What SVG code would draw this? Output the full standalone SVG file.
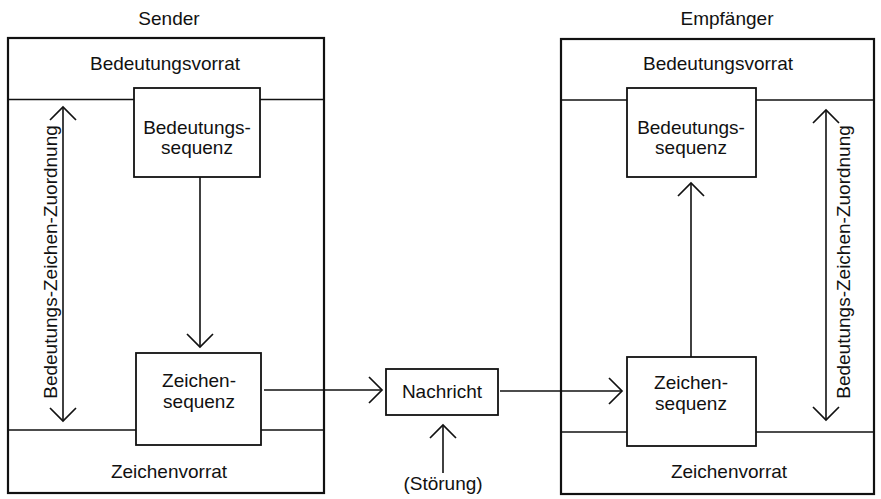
<svg xmlns="http://www.w3.org/2000/svg" width="881" height="499" viewBox="0 0 881 499">
<defs>
<marker id="v" viewBox="-15 -15 17 30" markerWidth="17" markerHeight="30" refX="0" refY="0" orient="auto" markerUnits="userSpaceOnUse">
<path d="M-13,-13 L0,0 L-13,13" fill="none" stroke="#111" stroke-width="1.7"/>
</marker>
<marker id="vs" viewBox="-15 -15 17 30" markerWidth="17" markerHeight="30" refX="0" refY="0" orient="auto-start-reverse" markerUnits="userSpaceOnUse">
<path d="M-13,-13 L0,0 L-13,13" fill="none" stroke="#111" stroke-width="1.7"/>
</marker>
</defs>
<style>
text{font-family:"Liberation Sans",Arial,sans-serif;font-size:19px;fill:#111;text-anchor:middle}
.outer{fill:none;stroke:#111;stroke-width:2.2}
.div{stroke:#111;stroke-width:1.3}
.box{fill:#fff;stroke:#111;stroke-width:1.8}
.con{fill:none;stroke:#111;stroke-width:1.6}
</style>
<rect width="881" height="499" fill="#fff"/>
<g id="sender">
<text x="169" y="25">Sender</text>
<rect class="outer" x="8" y="38" width="316" height="455"/>
<line class="div" x1="8" y1="99.5" x2="324" y2="99.5"/>
<line class="div" x1="8" y1="430" x2="324" y2="430"/>
<text x="165" y="70">Bedeutungsvorrat</text>
<text x="169" y="478">Zeichenvorrat</text>
</g>
<g id="empfaenger">
<text x="727" y="25">Empfänger</text>
<rect class="outer" x="561" y="39" width="313" height="455"/>
<line class="div" x1="561" y1="100" x2="874" y2="100"/>
<line class="div" x1="561" y1="432" x2="874" y2="432"/>
<text x="718" y="70">Bedeutungsvorrat</text>
<text x="729" y="478">Zeichenvorrat</text>
</g>
<g id="s-bedeutungssequenz">
<rect class="box" x="134" y="88" width="126" height="89"/>
<text x="197" y="134">Bedeutungs-</text>
<text x="197" y="154">sequenz</text>
</g>
<g id="s-zeichensequenz">
<rect class="box" x="136" y="353" width="125" height="92"/>
<text x="199" y="387">Zeichen-</text>
<text x="199" y="408">sequenz</text>
</g>
<g id="nachricht">
<rect class="box" x="386" y="369" width="112" height="46"/>
<text x="442" y="398">Nachricht</text>
</g>
<g id="stoerung">
<text x="443" y="490">(Störung)</text>
</g>
<g id="e-bedeutungssequenz">
<rect class="box" x="627" y="88" width="129" height="89"/>
<text x="691" y="134">Bedeutungs-</text>
<text x="691" y="154">sequenz</text>
</g>
<g id="e-zeichensequenz">
<rect class="box" x="627" y="357" width="129" height="89"/>
<text x="691" y="389">Zeichen-</text>
<text x="691" y="410">sequenz</text>
</g>
<g id="zuordnung-links">
<text transform="translate(57,262) rotate(-90)">Bedeutungs-Zeichen-Zuordnung</text>
</g>
<g id="zuordnung-rechts">
<text transform="translate(850,262) rotate(-90)">Bedeutungs-Zeichen-Zuordnung</text>
</g>
<g id="connectors">
<line class="con" x1="200" y1="177" x2="200" y2="347" marker-end="url(#v)"/>
<line class="con" x1="264" y1="390" x2="382" y2="390" marker-end="url(#v)"/>
<line class="con" x1="500" y1="391" x2="622" y2="391" marker-end="url(#v)"/>
<line class="con" x1="443" y1="473" x2="443" y2="425" marker-end="url(#v)"/>
<line class="con" x1="691" y1="357" x2="691" y2="183" marker-end="url(#v)"/>
<line class="con" x1="63" y1="107" x2="63" y2="421" marker-start="url(#vs)" marker-end="url(#v)"/>
<line class="con" x1="826" y1="110" x2="826" y2="420" marker-start="url(#vs)" marker-end="url(#v)"/>
</g>
</svg>
